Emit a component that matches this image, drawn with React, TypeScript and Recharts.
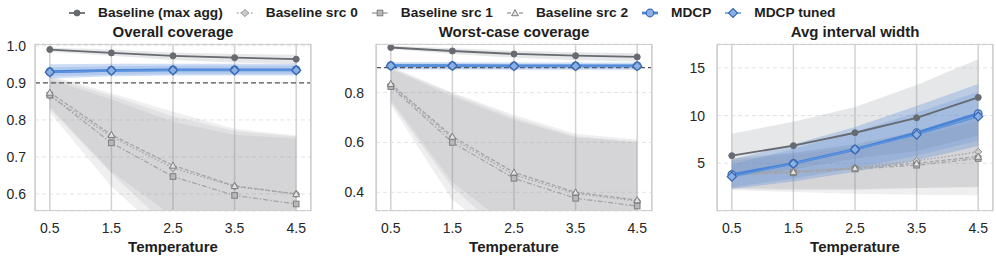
import React from "react";
import { ComposedChart, Line, Area, XAxis, YAxis, CartesianGrid, ReferenceLine } from "recharts";

const temps = [0.5, 1.5, 2.5, 3.5, 4.5];

// Overall coverage
const overallMaxAgg = [0.99, 0.981, 0.973, 0.968, 0.964];
const overallSrc0 = [0.865, 0.755, 0.67, 0.62, 0.6];
const overallSrc1 = [0.867, 0.738, 0.647, 0.596, 0.573];
const overallSrc2 = [0.874, 0.76, 0.677, 0.622, 0.6];
const overallMdcp = [0.93, 0.934, 0.935, 0.935, 0.935];
const overallTuned = [0.929, 0.933, 0.934, 0.934, 0.934];
const overallBandMaxAgg = [[0.984, 0.995], [0.973, 0.99], [0.962, 0.982], [0.955, 0.978], [0.951, 0.976]];
const overallBandSrc0 = [[0.83, 0.915], [0.655, 0.865], [0.5, 0.81], [0.44, 0.77], [0.42, 0.755]];
const overallBandSrc1 = [[0.82, 0.91], [0.62, 0.855], [0.47, 0.795], [0.4, 0.76], [0.38, 0.75]];
const overallBandSrc2 = [[0.835, 0.92], [0.66, 0.872], [0.54, 0.822], [0.47, 0.776], [0.44, 0.758]];
const overallBandMdcp = [[0.912, 0.95], [0.918, 0.952], [0.92, 0.952], [0.92, 0.952], [0.92, 0.952]];
const overallBandTuned = [[0.918, 0.942], [0.922, 0.945], [0.924, 0.946], [0.924, 0.946], [0.924, 0.946]];

// Worst-case coverage
const worstMaxAgg = [0.981, 0.967, 0.955, 0.948, 0.943];
const worstSrc0 = [0.83, 0.615, 0.47, 0.395, 0.365];
const worstSrc1 = [0.824, 0.6, 0.456, 0.376, 0.345];
const worstSrc2 = [0.835, 0.624, 0.48, 0.4, 0.369];
const worstMdcp = [0.908, 0.908, 0.907, 0.907, 0.907];
const worstTuned = [0.907, 0.907, 0.906, 0.906, 0.906];
const worstBandMaxAgg = [[0.975, 0.988], [0.955, 0.978], [0.94, 0.968], [0.93, 0.962], [0.925, 0.958]];
const worstBandSrc0 = [[0.76, 0.9], [0.42, 0.795], [0.2, 0.7], [0.15, 0.625], [0.13, 0.605]];
const worstBandSrc1 = [[0.75, 0.895], [0.37, 0.785], [0.18, 0.69], [0.12, 0.62], [0.1, 0.6]];
const worstBandSrc2 = [[0.77, 0.905], [0.44, 0.8], [0.25, 0.71], [0.18, 0.635], [0.15, 0.612]];
const worstBandMdcp = [[0.893, 0.922], [0.893, 0.922], [0.892, 0.921], [0.892, 0.921], [0.892, 0.921]];
const worstBandTuned = [[0.898, 0.916], [0.898, 0.916], [0.897, 0.915], [0.897, 0.915], [0.897, 0.915]];

// Avg interval width
const widthMaxAgg = [5.8, 6.85, 8.2, 9.76, 11.9];
const widthSrc0 = [3.95, 4.15, 4.55, 5.25, 6.2];
const widthSrc1 = [3.8, 4.0, 4.4, 4.8, 5.5];
const widthSrc2 = [3.9, 4.1, 4.5, 5.0, 5.7];
const widthMdcp = [3.8, 5.0, 6.45, 8.2, 10.2];
const widthTuned = [3.6, 4.95, 6.45, 8.0, 9.9];
const widthBandMaxAgg = [[3.5, 8.1], [4.35, 9.35], [5.5, 10.9], [6.3, 13.2], [7.9, 15.9]];
const widthBandSrc0 = [[2.4, 5.5], [2.3, 6.1], [2.3, 7.0], [2.4, 8.4], [2.55, 10.4]];
const widthBandSrc1 = [[2.3, 5.3], [2.2, 5.9], [2.2, 6.7], [2.4, 7.8], [2.5, 9.4]];
const widthBandSrc2 = [[2.2, 5.5], [2.0, 6.1], [1.8, 7.0], [1.7, 8.2], [1.65, 9.9]];
const widthBandMdcp = [[2.3, 5.4], [3.1, 7.0], [4.1, 8.8], [5.3, 11.0], [6.8, 13.3]];
const widthBandTuned = [[2.5, 4.9], [3.4, 6.5], [4.5, 8.3], [5.8, 10.3], [7.4, 12.5]];

const FONT = '"Liberation Sans", Arial, Helvetica, sans-serif';
const GRAY_DARK = "#676a70";
const GRAY_LINE = "#a3a5a8";
const BLUE = "#4a84d6";
const BLUE_FILL = "#8ab1e6";
const BLUE_EDGE = "#3a69b0";

const circle = (r: number, fill: string, stroke: string, sw = 1) => (p: any) =>
  <circle key={p.index} cx={p.cx} cy={p.cy} r={r} fill={fill} stroke={stroke} strokeWidth={sw} />;
const diamond = (r: number, fill: string, stroke: string, sw = 1) => (p: any) =>
  <path key={p.index} d={`M${p.cx},${p.cy - r}L${p.cx + r},${p.cy}L${p.cx},${p.cy + r}L${p.cx - r},${p.cy}Z`} fill={fill} stroke={stroke} strokeWidth={sw} />;
const square = (r: number, fill: string, stroke: string, sw = 1) => (p: any) =>
  <rect key={p.index} x={p.cx - r} y={p.cy - r} width={2 * r} height={2 * r} fill={fill} stroke={stroke} strokeWidth={sw} />;
const triangle = (r: number, fill: string, stroke: string, sw = 1) => (p: any) =>
  <path key={p.index} d={`M${p.cx},${p.cy - r}L${p.cx + r},${p.cy + r * 0.8}L${p.cx - r},${p.cy + r * 0.8}Z`} fill={fill} stroke={stroke} strokeWidth={sw} />;

const seriesStyle = [
  { key: "maxAgg", name: "Baseline (max agg)", color: GRAY_DARK, width: 1.8, dash: undefined, dot: circle(3, GRAY_DARK, GRAY_DARK) },
  { key: "src0", name: "Baseline src 0", color: GRAY_LINE, width: 1.3, dash: "1.5 2", dot: diamond(3.6, "#cdcdcd", "#8f8f8f") },
  { key: "src1", name: "Baseline src 1", color: GRAY_LINE, width: 1.3, dash: "5 2 1.5 2", dot: square(2.8, "#b9b9b9", "#7e7e7e") },
  { key: "src2", name: "Baseline src 2", color: GRAY_LINE, width: 1.3, dash: "4 2", dot: triangle(3.4, "#e2e2e2", "#7e7e7e") },
  { key: "mdcp", name: "MDCP", color: BLUE, width: 2.8, dash: undefined, dot: circle(3.8, BLUE_FILL, BLUE_EDGE, 1.2) },
  { key: "tuned", name: "MDCP tuned", color: "#5b93de", width: 1.5, dash: undefined, dot: diamond(4.5, BLUE_FILL, BLUE_EDGE, 1.2) },
];

const bandFill: Record<string, [string, number]> = {
  maxAgg: ["#8e9094", 0.22],
  src0: ["#8e9094", 0.14],
  src1: ["#8e9094", 0.14],
  src2: ["#8e9094", 0.14],
  mdcp: ["#4a84d6", 0.28],
  tuned: ["#4a84d6", 0.2],
};

function buildRows(means: number[][], bands: number[][][]) {
  return temps.map((t, i) => {
    const row: any = { t };
    seriesStyle.forEach((s, k) => {
      row[s.key] = means[k][i];
      row[s.key + "Band"] = bands[k][i];
    });
    return row;
  });
}

const overallRows = buildRows(
  [overallMaxAgg, overallSrc0, overallSrc1, overallSrc2, overallMdcp, overallTuned],
  [overallBandMaxAgg, overallBandSrc0, overallBandSrc1, overallBandSrc2, overallBandMdcp, overallBandTuned]
);
const worstRows = buildRows(
  [worstMaxAgg, worstSrc0, worstSrc1, worstSrc2, worstMdcp, worstTuned],
  [worstBandMaxAgg, worstBandSrc0, worstBandSrc1, worstBandSrc2, worstBandMdcp, worstBandTuned]
);
const widthRows = buildRows(
  [widthMaxAgg, widthSrc0, widthSrc1, widthSrc2, widthMdcp, widthTuned],
  [widthBandMaxAgg, widthBandSrc0, widthBandSrc1, widthBandSrc2, widthBandMdcp, widthBandTuned]
);

const CH_H = 258;
const PLOT_TOP = 44;
const PLOT_BOTTOM = 211;

type PanelProps = {
  title: string;
  rows: any[];
  left: number;
  width: number;
  axisW: number;
  right: number;
  labelGap: number;
  yDomain: [number, number];
  yTicks: number[];
  fmt: (v: number) => string;
  target?: number;
};

function Panel({ title, rows, left, width, axisW, right, labelGap, yDomain, yTicks, fmt, target }: PanelProps) {
  const plotL = left + axisW;
  const plotR = left + width - right;
  const plotW = plotR - plotL;
  const tickStyle = { fontSize: 14, fill: "#262626", fontFamily: FONT };
  return (
    <>
      <div style={{ position: "absolute", left, top: 0 }}>
        <ComposedChart
          width={width}
          height={CH_H}
          data={rows}
          margin={{ top: PLOT_TOP, right, bottom: CH_H - PLOT_BOTTOM - 40, left: 0 }}
        >
          <CartesianGrid vertical={false} stroke="#e4e4e4" strokeDasharray="4 3" strokeWidth={1} />
          <CartesianGrid horizontal={false} stroke="#d2d2d2" strokeWidth={1.5} />
          <XAxis
            dataKey="t"
            type="number"
            domain={[0.26, 4.74]}
            ticks={temps}
            allowDataOverflow
            height={40}
            axisLine={false}
            tickLine={false}
            tickSize={6}
            tickMargin={6}
            tick={tickStyle}
            tickFormatter={(v) => v.toFixed(1)}
          />
          <YAxis
            type="number"
            domain={yDomain}
            ticks={yTicks}
            allowDataOverflow
            width={axisW}
            axisLine={false}
            tickLine={false}
            tickSize={6}
            tickMargin={labelGap}
            tick={tickStyle}
            tickFormatter={fmt}
          />
          {seriesStyle.map((s) => (
            <Area
              key={s.key + "Band"}
              dataKey={s.key + "Band"}
              type="linear"
              stroke="none"
              fill={bandFill[s.key][0]}
              fillOpacity={bandFill[s.key][1]}
              dot={false}
              activeDot={false}
              isAnimationActive={false}
            />
          ))}
          {target !== undefined && (
            <ReferenceLine y={target} stroke="#555" strokeDasharray="5 3" strokeWidth={1.3} />
          )}
          {seriesStyle.map((s) => (
            <Line
              key={s.key}
              dataKey={s.key}
              type="linear"
              stroke={s.color}
              strokeWidth={s.width}
              strokeDasharray={s.dash}
              dot={s.dot}
              activeDot={false}
              isAnimationActive={false}
            />
          ))}
        </ComposedChart>
      </div>
      <div
        style={{
          position: "absolute",
          left: plotL,
          top: PLOT_TOP,
          width: plotW,
          height: PLOT_BOTTOM - PLOT_TOP,
          border: "1.5px solid #cfcfcf",
          boxSizing: "border-box",
          pointerEvents: "none",
        }}
      />
      <div style={{ position: "absolute", left: plotL, width: plotW, top: 24, textAlign: "center", fontSize: 15, lineHeight: "15px", fontWeight: 700, color: "#1e1e1e" }}>
        {title}
      </div>
      <div style={{ position: "absolute", left: plotL, width: plotW, top: 239, textAlign: "center", fontSize: 15, lineHeight: "15px", fontWeight: 700, color: "#1e1e1e" }}>
        Temperature
      </div>
    </>
  );
}

function LegendSymbol({ s }: { s: (typeof seriesStyle)[number] }) {
  return (
    <svg width={16} height={12} style={{ display: "block" }}>
      <line x1={0} y1={6} x2={16} y2={6} stroke={s.color} strokeWidth={s.width} strokeDasharray={s.dash} />
      {s.dot({ cx: 8, cy: 6, index: 0 })}
    </svg>
  );
}

export default function App() {
  return (
    <div style={{ position: "absolute", left: 0, top: 0, width: 996, height: 258, background: "#fff", fontFamily: FONT, overflow: "hidden" }}>
      <div style={{ position: "absolute", left: 69, top: 6, display: "flex", alignItems: "center", fontSize: 13.7, lineHeight: "14px", fontWeight: 700, color: "#1e1e1e", whiteSpace: "nowrap" }}>
        {seriesStyle.map((s) => (
          <div key={s.key} style={{ display: "flex", alignItems: "center", marginRight: 14 }}>
            <LegendSymbol s={s} />
            <span style={{ marginLeft: 13 }}>{s.name}</span>
          </div>
        ))}
      </div>
      <Panel
        title="Overall coverage"
        rows={overallRows}
        left={0}
        width={330}
        axisW={35}
        right={19}
        labelGap={3}
        yDomain={[0.554, 1.005]}
        yTicks={[0.6, 0.7, 0.8, 0.9, 1.0]}
        fmt={(v) => v.toFixed(1)}
        target={0.9}
      />
      <Panel
        title="Worst-case coverage"
        rows={worstRows}
        left={330}
        width={330}
        axisW={46}
        right={8}
        labelGap={6}
        yDomain={[0.325, 0.995]}
        yTicks={[0.4, 0.6, 0.8]}
        fmt={(v) => v.toFixed(1)}
        target={0.9}
      />
      <Panel
        title="Avg interval width"
        rows={widthRows}
        left={660}
        width={336}
        axisW={57}
        right={3}
        labelGap={6}
        yDomain={[0, 17.5]}
        yTicks={[5, 10, 15]}
        fmt={(v) => String(v)}
      />
    </div>
  );
}
